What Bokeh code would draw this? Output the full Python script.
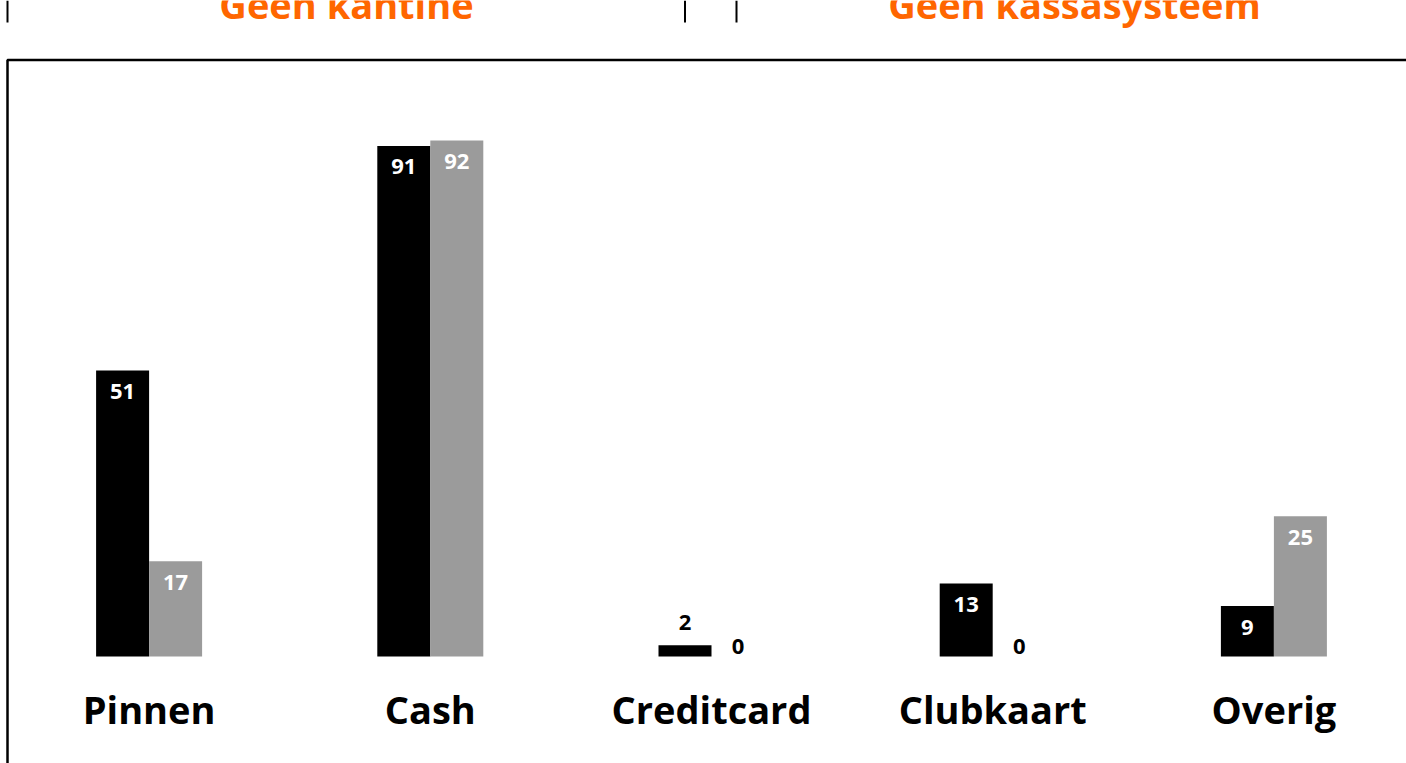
from bokeh.plotting import figure
from bokeh.models import Range1d, ColumnDataSource
from bokeh.transform import dodge
from bokeh.core.properties import value
from bokeh.embed import file_html
from bokeh.resources import INLINE

# ---- data ----
categories = ["Pinnen", "Cash", "Creditcard", "Clubkaart", "Overig"]
geen_kantine = [51, 91, 2, 13, 9]
geen_kassasysteem = [17, 92, 0, 0, 25]
series_titles = ["Geen kantine", "Geen kassasysteem"]
series_colors = ["#000000", "#9b9b9b"]

# ---- geometry (pixels) ----
W, H = 1406, 763
BASE_PX = 656          # pixel row of the zero line
PX_PER_UNIT = 5.61     # pixels per unit of value
UNIT_PX = W / len(categories)
BAR_W = 53 / UNIT_PX
SHIFT = 8 / UNIT_PX
FONT = value("Open Sans")
idx = list(range(len(categories)))

p = figure(width=W, height=H,
           x_range=Range1d(-0.5 - SHIFT, len(categories) - 0.5 - SHIFT),
           y_range=Range1d(-(H - BASE_PX) / PX_PER_UNIT, BASE_PX / PX_PER_UNIT),
           output_backend="svg", toolbar_location=None,
           x_axis_location=None, y_axis_location=None,
           min_border=0, margin=0)
p.grid.visible = False
p.outline_line_color = None
p.background_fill_color = "white"
p.border_fill_color = "white"
p.extra_x_ranges = {"px": Range1d(0, W)}
p.extra_y_ranges = {"px": Range1d(H, 0)}

def label_cols(vals):
    texts, colors, offs = [], [], []
    for v in vals:
        texts.append(str(v))
        inside = v * PX_PER_UNIT >= 30
        colors.append("white" if inside else "black")
        offs.append(21 if inside else (-10.5 if v == 0 else -22.5))
    return texts, colors, offs

for i, (vals, col) in enumerate(zip([geen_kantine, geen_kassasysteem], series_colors)):
    t, c, o = label_cols(vals)
    src = ColumnDataSource(dict(idx=idx, val=vals, txt=t, tc=c, off=o))
    xd = dodge("idx", (i - 0.5) * BAR_W)
    p.vbar(x=xd, top="val", bottom=0, width=BAR_W, source=src,
           fill_color=col, line_color=None)
    p.text(x=xd, y="val", text="txt", source=src, text_color="tc",
           y_offset="off", text_align="center", text_baseline="alphabetic",
           text_font=FONT, text_font_style="bold", text_font_size="22px")

# category labels
p.text(x="idx", y=708, y_range_name="px",
       source=ColumnDataSource(dict(idx=idx, cat=categories)), text="cat",
       text_align="center", text_baseline="alphabetic", text_color="black",
       text_font=FONT, text_font_style="bold", text_font_size="38px")

# panel titles (cut at top of the page, as in the source)
p.text(x=[346, 1074], y=[3, 3], text=series_titles, x_range_name="px", y_range_name="px",
       text_align="center", text_baseline="alphabetic", text_color="#ff6600",
       text_font=FONT, text_font_style="bold", text_font_size="38px")

# panel separators at top
p.multi_line(xs=[[7, 7], [684.5, 684.5], [736, 736]], ys=[[0, 22]] * 3,
             x_range_name="px", y_range_name="px", line_color="black", line_width=2)

# frame box
p.line(x=[7, 7, W + 5], y=[H + 5, 59.5, 59.5], x_range_name="px", y_range_name="px",
       line_color="black", line_width=2.5)

open("out.html", "w").write(file_html(p, INLINE))
